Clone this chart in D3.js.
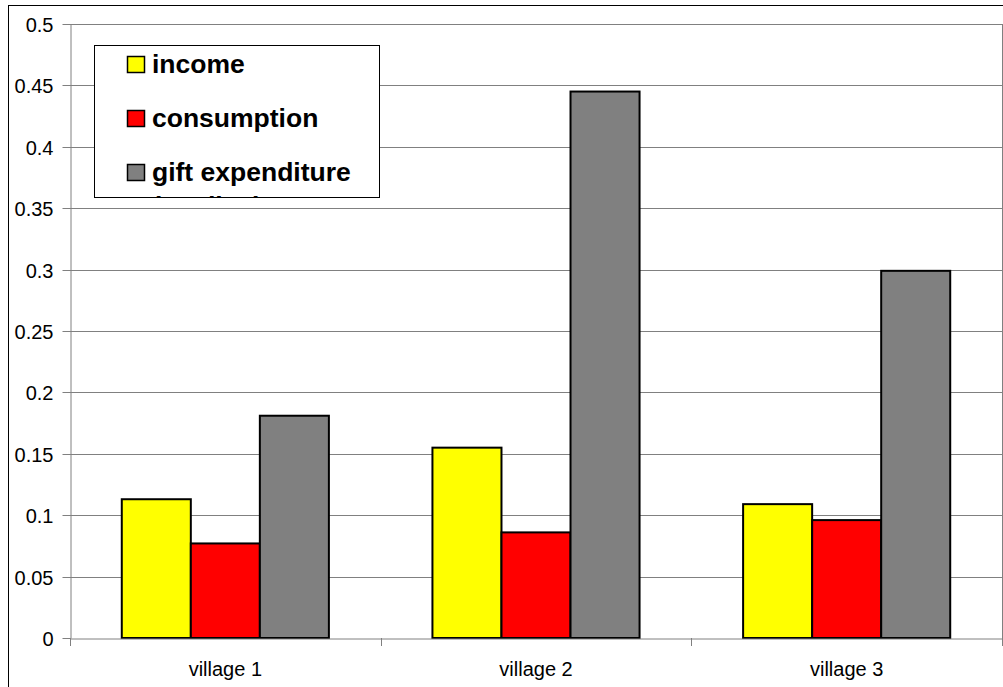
<!DOCTYPE html>
<html><head><meta charset="utf-8">
<script src="https://cdn.jsdelivr.net/npm/d3@7"></script>
<style>body{margin:0;background:#fff}svg{display:block}</style>
</head><body>
<script>
const categories = ["village 1", "village 2", "village 3"];
const seriesNames = ["income", "consumption", "gift expenditure"];
const income = [0.113, 0.155, 0.109];
const consumption = [0.077, 0.086, 0.096];
const gift = [0.181, 0.445, 0.299];
const yTicks = [0, 0.05, 0.1, 0.15, 0.2, 0.25, 0.3, 0.35, 0.4, 0.45, 0.5];
const colors = ["#ffff00", "#ff0000", "#808080"];
const series = [income, consumption, gift];

(function () {
const FONT = "'Liberation Sans', Arial, sans-serif";
const W = 1003, H = 687;
const svg = d3.select("body").append("svg").attr("width", W).attr("height", H);
svg.append("rect").attr("x", 8.5).attr("y", 5.5).attr("width", W).attr("height", H)
  .attr("fill", "#fff").attr("stroke", "#000").attr("stroke-width", 1);

const pL = 70, pR = 1002, pT = 24, pB = 638;
const x = d3.scaleBand().domain(categories).range([pL, pR]).paddingInner(0).paddingOuter(0);
const y = d3.scaleLinear().domain([0, 0.5]).range([pB, pT]);
const inner = d3.scaleBand().domain(d3.range(3)).range([0, x.bandwidth()]).paddingOuter(0.75).paddingInner(0);

svg.append("g").selectAll("line").data(yTicks.slice(1)).join("line")
  .attr("x1", pL).attr("x2", pR).attr("y1", d => Math.round(y(d)) + 0.5).attr("y2", d => Math.round(y(d)) + 0.5)
  .attr("stroke", "#808080").attr("stroke-width", 1);
svg.append("line").attr("x1", pR + 0.5).attr("x2", pR + 0.5).attr("y1", pT).attr("y2", pB).attr("stroke", "#808080");

series.forEach((vals, si) => {
  svg.append("g").selectAll("rect").data(vals).join("rect")
    .attr("x", (d, i) => x(categories[i]) + inner(si))
    .attr("width", inner.bandwidth())
    .attr("y", d => y(d))
    .attr("height", d => y(0) - y(d))
    .attr("fill", colors[si]).attr("stroke", "#000").attr("stroke-width", 2);
});

const yAxis = d3.axisLeft(y).tickValues(yTicks).tickSize(8).tickSizeOuter(0)
  .tickFormat(d => d === 0 ? "0" : String(d));
const gy = svg.append("g").attr("transform", `translate(${pL + 0.5},0)`).call(yAxis);
gy.select(".domain").attr("stroke", "#808080");
gy.selectAll(".tick line").attr("stroke", "#808080");
gy.selectAll(".tick text").attr("font-family", FONT)
  .attr("font-size", 20).attr("fill", "#000").attr("x", -17).attr("dy", "0.35em");
gy.selectAll(".tick").attr("transform", d => `translate(0,${Math.round(y(d)) + 0.5})`);

const xAxis = d3.axisBottom(x).tickSize(0).tickSizeOuter(0);
const gx = svg.append("g").attr("transform", `translate(0,${pB + 0.5})`).call(xAxis);
gx.select(".domain").attr("stroke", "#808080");
gx.selectAll(".tick text").attr("font-family", FONT)
  .attr("font-size", 20).attr("fill", "#000").attr("dy", 0).attr("y", 37);
const sep = [pL, ...categories.map(c => x(c) + x.bandwidth())];
svg.append("g").selectAll("line").data(sep).join("line")
  .attr("x1", d => Math.round(d) + 0.5).attr("x2", d => Math.round(d) + 0.5)
  .attr("y1", pB).attr("y2", pB + 8).attr("stroke", "#808080");

const lg = svg.append("g");
lg.append("clipPath").attr("id", "lc").append("rect").attr("x", 94).attr("y", 45).attr("width", 285).attr("height", 152);
lg.append("rect").attr("x", 94.5).attr("y", 45.5).attr("width", 285).attr("height", 152)
  .attr("fill", "#fff").attr("stroke", "#000").attr("stroke-width", 1);
const lgi = lg.append("g").attr("clip-path", "url(#lc)");
seriesNames.forEach((n, i) => {
  const yy = 56 + i * 54;
  lgi.append("rect").attr("x", 127.5).attr("y", yy + 0.5).attr("width", 17).attr("height", 16)
    .attr("fill", colors[i]).attr("stroke", "#000").attr("stroke-width", 1.5);
  lgi.append("text").attr("x", 152).attr("y", yy + 17).text(n)
    .attr("font-family", FONT).attr("font-weight", "bold")
    .attr("font-size", 26.5).attr("fill", "#000");
});
lgi.append("text").attr("x", 152).attr("y", 215).text("(median)")
  .attr("font-family", FONT).attr("font-weight", "bold")
  .attr("font-size", 26.5).attr("fill", "#000");
})();
</script>
</body></html>
